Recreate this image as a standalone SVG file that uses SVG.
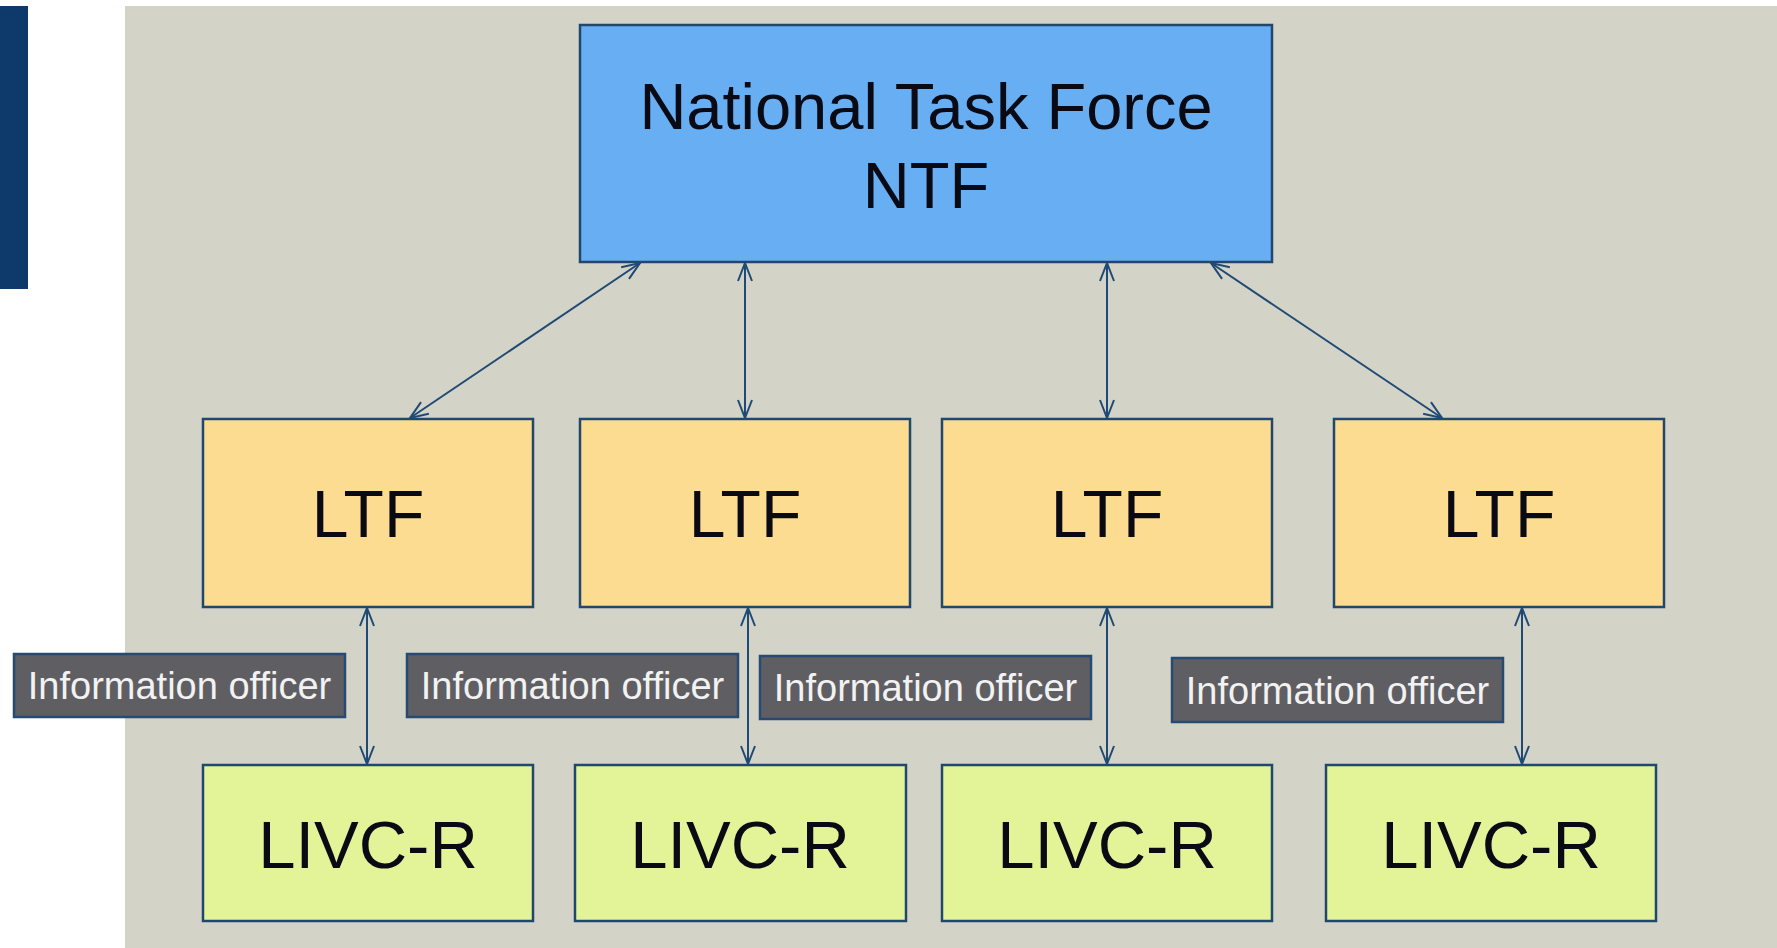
<svg xmlns="http://www.w3.org/2000/svg" width="1777" height="948" viewBox="0 0 1777 948">
  <style>
    .box { stroke: #22476d; stroke-width: 2.5; }
    .ntf { fill: #67aef2; }
    .ltf { fill: #fcdc90; }
    .livc { fill: #e3f498; }
    .info { fill: #5f5f63; stroke: #264a72; stroke-width: 2.5; }
    .big { font-family: "Liberation Sans", Arial, sans-serif; fill: #0a0a14; text-anchor: middle; }
    .infot { font-family: "Liberation Sans", Arial, sans-serif; font-size: 38px; fill: #f2f2f2; text-anchor: middle; }
    .conn { stroke: #1f4a75; stroke-width: 2; fill: none; marker-start: url(#arr); marker-end: url(#arr); }
  </style>
  <defs>
    <marker id="arr" viewBox="0 0 20 16" refX="19" refY="8" markerWidth="20" markerHeight="16" markerUnits="userSpaceOnUse" orient="auto-start-reverse">
      <path d="M1,1 L19,8 L1,15" fill="none" stroke="#1f4a75" stroke-width="2"/>
    </marker>
  </defs>
  <rect x="0" y="0" width="1777" height="948" fill="#ffffff"/>
  <rect x="125" y="6" width="1652" height="942" fill="#d4d3c7"/>
  <rect x="0" y="6" width="28" height="283" fill="#0d3a6b"/>

  <g id="ntf">
    <rect class="box ntf" x="580" y="25" width="692" height="237"/>
    <text class="big" x="926" y="129" font-size="65">National Task Force</text>
    <text class="big" x="926" y="208" font-size="65">NTF</text>
  </g>

  <g id="ltf1"><rect class="box ltf" x="203" y="419" width="330" height="188"/><text class="big" x="368" y="537" font-size="66">LTF</text></g>
  <g id="ltf2"><rect class="box ltf" x="580" y="419" width="330" height="188"/><text class="big" x="745" y="537" font-size="66">LTF</text></g>
  <g id="ltf3"><rect class="box ltf" x="942" y="419" width="330" height="188"/><text class="big" x="1107" y="537" font-size="66">LTF</text></g>
  <g id="ltf4"><rect class="box ltf" x="1334" y="419" width="330" height="188"/><text class="big" x="1499" y="537" font-size="66">LTF</text></g>

  <g id="livc1"><rect class="box livc" x="203" y="765" width="330" height="156"/><text class="big" x="368" y="868" font-size="67">LIVC-R</text></g>
  <g id="livc2"><rect class="box livc" x="575" y="765" width="331" height="156"/><text class="big" x="740" y="868" font-size="67">LIVC-R</text></g>
  <g id="livc3"><rect class="box livc" x="942" y="765" width="330" height="156"/><text class="big" x="1107" y="868" font-size="67">LIVC-R</text></g>
  <g id="livc4"><rect class="box livc" x="1326" y="765" width="330" height="156"/><text class="big" x="1491" y="868" font-size="67">LIVC-R</text></g>

  <g id="info1"><rect class="info" x="14" y="654" width="331" height="63"/><text class="infot" x="179.5" y="699">Information officer</text></g>
  <g id="info2"><rect class="info" x="407" y="654" width="331" height="63"/><text class="infot" x="572.5" y="699">Information officer</text></g>
  <g id="info3"><rect class="info" x="760" y="656" width="331" height="63"/><text class="infot" x="925.5" y="701">Information officer</text></g>
  <g id="info4"><rect class="info" x="1172" y="658" width="331" height="64"/><text class="infot" x="1337.5" y="704">Information officer</text></g>

  <g id="connectors">
    <line class="conn" x1="640" y1="263" x2="410" y2="418"/>
    <line class="conn" x1="745" y1="263" x2="745" y2="418"/>
    <line class="conn" x1="1107" y1="263" x2="1107" y2="418"/>
    <line class="conn" x1="1211" y1="263" x2="1442" y2="418"/>
    <line class="conn" x1="367" y1="608" x2="367" y2="764"/>
    <line class="conn" x1="748" y1="608" x2="748" y2="764"/>
    <line class="conn" x1="1107" y1="608" x2="1107" y2="764"/>
    <line class="conn" x1="1522" y1="608" x2="1522" y2="764"/>
  </g>
</svg>
